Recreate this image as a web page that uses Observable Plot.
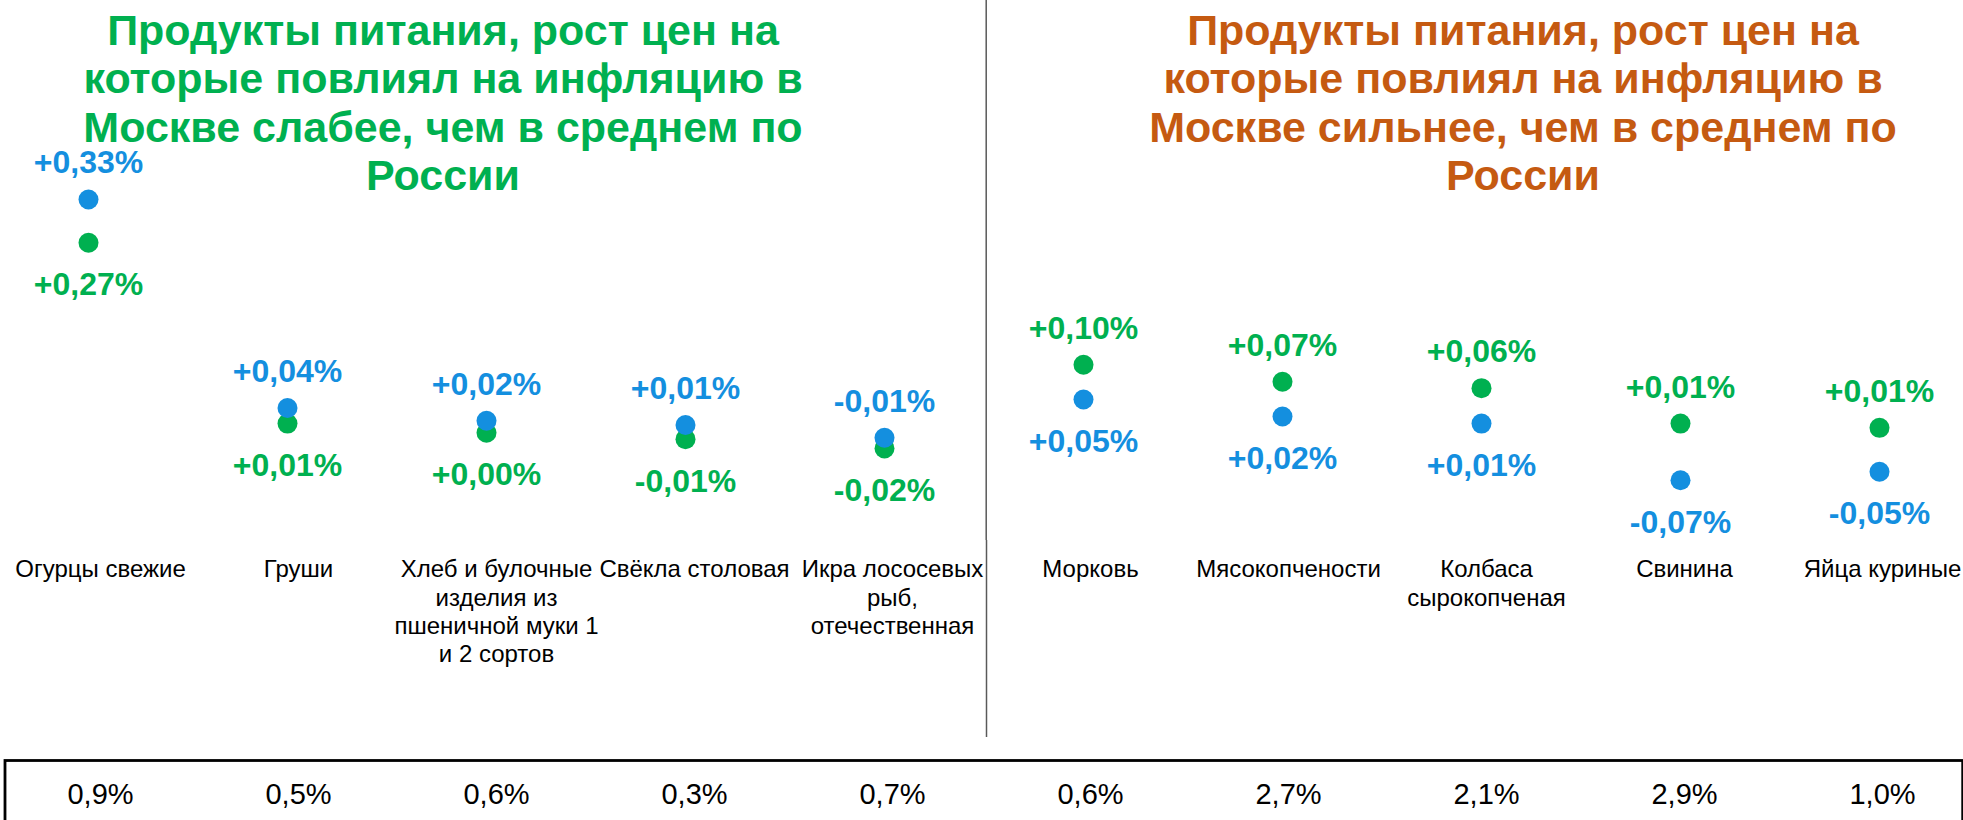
<!DOCTYPE html>
<html>
<head>
<meta charset="utf-8">
<script src="https://cdn.jsdelivr.net/npm/d3@7"></script>
<script src="https://cdn.jsdelivr.net/npm/@observablehq/plot@0.6"></script>
<style>
html, body { margin: 0; padding: 0; background: #fff; overflow: hidden; }
#wrap { position: relative; width: 1963px; height: 820px; overflow: hidden; font-family: "Liberation Sans", Arial, sans-serif; }
.title { position: absolute; top: 6px; width: 1000px; text-align: center; font-weight: bold; font-size: 43px; line-height: 48.3px; white-space: nowrap; }
#chartA, #chartB { position: absolute; left: 0; }
#chartA { top: 0; }
#chartB { top: 540px; }
</style>
</head>
<body>
<div id="wrap">
  <div id="chartA"></div>
  <div id="chartB"></div>
  <div class="title" id="t1" style="left:-57px;color:#00B050"></div>
  <div class="title" id="t2" style="left:1023px;color:#C55A11"></div>
</div>
<script>
// ---- data ----
const categoryLines = [
  ["Огурцы свежие"],
  ["Груши"],
  ["Хлеб и булочные", "изделия из", "пшеничной муки 1", "и 2 сортов"],
  ["Свёкла столовая"],
  ["Икра лососевых", "рыб,", "отечественная"],
  ["Морковь"],
  ["Мясокопчености"],
  ["Колбаса", "сырокопченая"],
  ["Свинина"],
  ["Яйца куриные"]
];
const categories = categoryLines.map(l => l.join(" "));
// blue series (в среднем по России)
const russia = [0.330, 0.036, 0.018, 0.012, -0.006, 0.048, 0.024, 0.014, -0.066, -0.054];
// green series (Москва)
const moscow = [0.269, 0.014, 0.001, -0.008, -0.021, 0.097, 0.073, 0.064, 0.014, 0.008];
// bottom table values
const weights = [0.9, 0.5, 0.6, 0.3, 0.7, 0.6, 2.7, 2.1, 2.9, 1.0];
const titleLeftLines = ["Продукты питания, рост цен на", "которые повлиял на инфляцию в", "Москве слабее, чем в среднем по", "России"];
const titleRightLines = ["Продукты питания, рост цен на", "которые повлиял на инфляцию в", "Москве сильнее, чем в среднем по", "России"];
const seriesNames = ["Россия", "Москва"];
const seriesColors = ["#148FDF", "#00B050"];

// ---- build ----
document.getElementById("t1").innerHTML = titleLeftLines.join("<br>");
document.getElementById("t2").innerHTML = titleRightLines.join("<br>");

const rows = categories.flatMap((c, i) => [
  {cat: c, series: "Москва", value: moscow[i], above: moscow[i] > russia[i]},
  {cat: c, series: "Россия", value: russia[i], above: russia[i] >= moscow[i]}
]);
const fmt = v => (v < 0 ? "-" : "+") + Math.abs(v).toFixed(2).replace(".", ",") + "%";
const font = "'Liberation Sans', Arial, sans-serif";

const A = Plot.plot({
  width: 1963, height: 540, margin: 0,
  style: {fontFamily: font, background: "transparent", overflow: "visible"},
  x: {type: "point", domain: categories, range: [-13, 1980.3], padding: 0.5, axis: null},
  y: {domain: [-0.1509, 0.6107], axis: null},
  color: {domain: seriesNames, range: seriesColors},
  marks: [
    Plot.ruleX([categories[5]], {x: d => d, dx: -97.3, stroke: "#595959", strokeWidth: 1.5}),
    Plot.dot(rows.filter(d => d.series === "Москва"), {x: "cat", y: "value", r: 10, fill: "series"}),
    Plot.dot(rows.filter(d => d.series === "Россия"), {x: "cat", y: "value", r: 10, fill: "series"}),
    Plot.text(rows.filter(d => d.above), {x: "cat", y: "value", text: d => fmt(d.value), fill: "series", dy: -36.3, fontSize: 32, fontWeight: "bold"}),
    Plot.text(rows.filter(d => !d.above), {x: "cat", y: "value", text: d => fmt(d.value), fill: "series", dy: 42.2, fontSize: 32, fontWeight: "bold"})
  ]
});
document.getElementById("chartA").appendChild(A);

const B = Plot.plot({
  width: 1963, height: 300, margin: 0,
  style: {fontFamily: font, background: "transparent"},
  x: {type: "point", domain: categories, range: [1, 1981], padding: 0.5, axis: null},
  marks: [
    Plot.ruleX([categories[5]], {x: d => d, dx: -104, stroke: "#595959", strokeWidth: 1.5, insetBottom: 103}),
    Plot.text(categories, {x: d => d, text: (d, i) => categoryLines[i].join("\n"), frameAnchor: "top", lineAnchor: "top", dy: 16.7, fontSize: 24, lineHeight: 1.18, fill: "#000"}),
    Plot.frame({insetTop: 220, insetLeft: 4.5, insetRight: 0.8, stroke: "#000", strokeWidth: 2.8}),
    Plot.text(weights, {x: (d, i) => categories[i], text: d => d.toFixed(1).replace(".", ",") + "%", frameAnchor: "top", dy: 242.8, fontSize: 29, fill: "#000"})
  ]
});
document.getElementById("chartB").appendChild(B);
</script>
</body>
</html>
